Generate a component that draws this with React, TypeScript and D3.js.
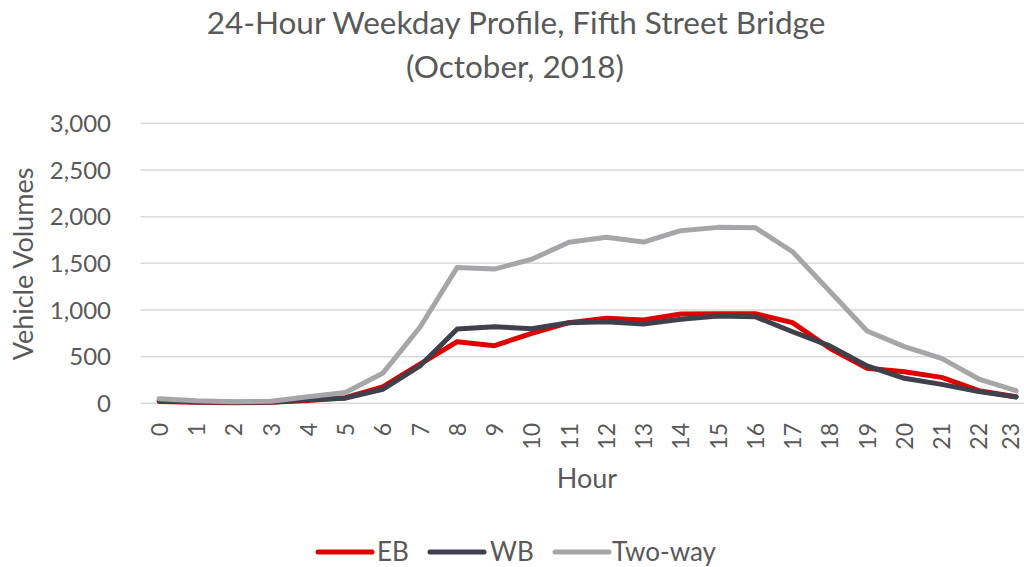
import React from "react";
import * as d3 from "d3";

const hours: string[] = ["0","1","2","3","4","5","6","7","8","9","10","11","12","13","14","15","16","17","18","19","20","21","22","23"];
const eb: number[] = [20, 12, 6, 10, 30, 60, 175, 420, 660, 617, 750, 864, 911, 893, 957, 960, 960, 864, 590, 375, 339, 278, 135, 71];
const wb: number[] = [30, 15, 10, 12, 40, 55, 150, 400, 796, 821, 800, 864, 875, 850, 900, 935, 928, 767, 615, 400, 268, 203, 125, 68];
const twoWay: number[] = [50, 27, 17, 22, 70, 115, 321, 815, 1456, 1438, 1543, 1725, 1778, 1728, 1849, 1885, 1882, 1624, 1200, 775, 607, 481, 260, 135];
const yTicks: number[] = [0, 500, 1000, 1500, 2000, 2500, 3000];
const seriesNames: string[] = ["EB", "WB", "Two-way"];
const seriesColors: string[] = ["#E00000", "#403F4C", "#A6A6A9"];

const FONT = "Lato, 'Open Sans', sans-serif";
const TXT = "#595959";

export default function App() {
  const W = 1024, H = 567;
  const x = d3.scaleBand<string>().domain(hours).range([140.5, 140.5 + 24 * 37.26]);
  const y = d3.scaleLinear().domain([0, 3000]).range([403.3, 123.3]);
  const cx = (h: string) => (x(h) as number) + x.bandwidth() / 2;
  const line = d3.line<number>().x((_, i) => cx(hours[i])).y((d) => y(d));
  const series = [eb, wb, twoWay];
  const fmt = d3.format(",");
  const legendX = [318, 430, 555];
  const legendTextX = [377, 490, 612];

  return (
    <svg width={W} height={H} style={{ position: "absolute", left: 0, top: 0, background: "#fff" }} fontFamily={FONT}>
      <text x={516} y={34} textAnchor="middle" fontSize={31.5} fill={TXT}>24-Hour Weekday Profile, Fifth Street Bridge</text>
      <text x={515} y={78} textAnchor="middle" fontSize={31.5} fill={TXT}>(October, 2018)</text>
      {yTicks.map((t) => (
        <g key={t}>
          <line x1={140.5} x2={W} y1={y(t)} y2={y(t)} stroke="#D9D9D9" strokeWidth={1.5} />
          <text x={111} y={y(t) + 8.6} textAnchor="end" fontSize={24} fill={TXT}>{fmt(t)}</text>
        </g>
      ))}
      {hours.map((h) => (
        <text key={h} transform={`translate(${Math.min(cx(h) + 8.6, 1018.5)},${423}) rotate(-90)`} textAnchor="end" fontSize={23} fill={TXT}>{h}</text>
      ))}
      <text transform={`translate(33,264) rotate(-90)`} textAnchor="middle" fontSize={27} fill={TXT}>Vehicle Volumes</text>
      <text x={587} y={488} textAnchor="middle" fontSize={27} fill={TXT}>Hour</text>
      {series.map((s, i) => (
        <path key={i} d={line(s) as string} fill="none" stroke={seriesColors[i]} strokeWidth={5} strokeLinejoin="round" strokeLinecap="round" />
      ))}
      {seriesNames.map((n, i) => (
        <g key={n}>
          <line x1={legendX[i]} x2={legendX[i] + 54} y1={552} y2={552} stroke={seriesColors[i]} strokeWidth={5} strokeLinecap="round" />
          <text x={legendTextX[i]} y={561} fontSize={26} fill={TXT}>{n}</text>
        </g>
      ))}
    </svg>
  );
}
